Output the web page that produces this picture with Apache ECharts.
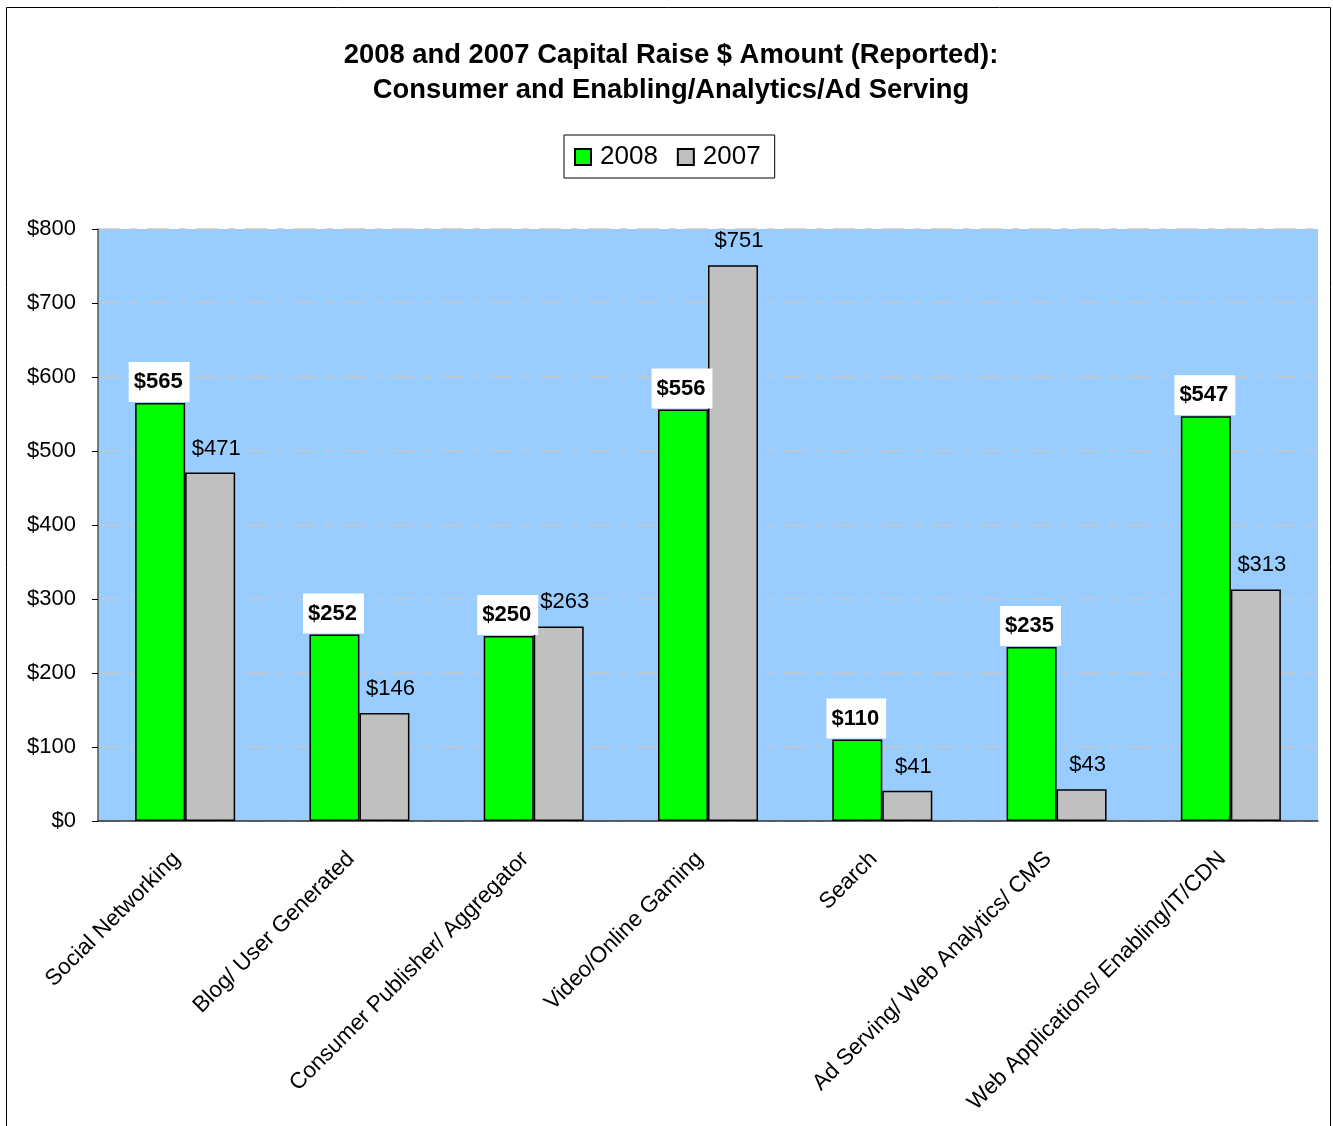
<!DOCTYPE html>
<html>
<head>
<meta charset="utf-8">
<script src="https://cdn.jsdelivr.net/npm/echarts@6/dist/echarts.min.js"></script>
<style>
html,body{margin:0;padding:0;background:#fff;}
#chart{width:1333px;height:1126px;}
</style>
</head>
<body>
<div id="chart"></div>
<script>
const categories = ["Social Networking","Blog/ User Generated","Consumer Publisher/ Aggregator","Video/Online Gaming","Search","Ad Serving/ Web Analytics/ CMS","Web Applications/ Enabling/IT/CDN"];
const values2008 = [565, 252, 250, 556, 110, 235, 547];
const values2007 = [471, 146, 263, 751, 41, 43, 313];
const yTicks = [0, 100, 200, 300, 400, 500, 600, 700, 800];

const FONT = '"Liberation Sans", Arial, sans-serif';
const chart = echarts.init(document.getElementById('chart'), null, {renderer: 'canvas'});
chart.setOption({
  animation: false,
  backgroundColor: '#ffffff',
  textStyle: {fontFamily: FONT},
  graphic: [{
    type: 'rect', shape: {x: 6.5, y: 7.5, width: 1324, height: 1130},
    style: {fill: 'none', stroke: '#000', lineWidth: 1}, z: 100
  }],
  title: {
    text: '2008 and 2007 Capital Raise $ Amount (Reported):\nConsumer and Enabling/Analytics/Ad Serving',
    left: 666, top: 33, textAlign: 'center',
    textStyle: {fontFamily: FONT, fontWeight: 'bold', fontSize: 27.4, lineHeight: 35, color: '#000'}
  },
  legend: {
    data: ['2008', '2007'],
    left: 564, top: 135,
    padding: [9, 14, 8, 10],
    borderColor: '#000', borderWidth: 1,
    itemWidth: 16, itemHeight: 16, itemGap: 19,
    icon: 'rect',
    textStyle: {fontFamily: FONT, fontSize: 26, color: '#000', padding: [0, 0, 0, 4]}
  },
  grid: {left: 98, right: 15, top: 229, bottom: 305, show: true, backgroundColor: '#99ccff', borderWidth: 0},
  xAxis: {
    type: 'category', data: categories,
    axisLine: {lineStyle: {color: '#333', width: 1.5}},
    axisTick: {show: false},
    axisLabel: {rotate: 45, fontFamily: FONT, fontSize: 22.5, color: '#000', margin: 26, interval: 0,
      padding: [0, 12, 0, 0]}
  },
  yAxis: {
    type: 'value', min: 0, max: 800, interval: 100,
    axisLine: {show: true, lineStyle: {color: '#555', width: 1.5}},
    axisTick: {show: true, length: 6, lineStyle: {color: '#000'}},
    axisLabel: {fontFamily: FONT, fontSize: 22, color: '#000', margin: 22,
      formatter: v => yTicks.indexOf(v) >= 0 ? '$' + v : ''},
    splitLine: {show: true, lineStyle: {color: '#c8c8c8', width: 1.5, type: [22, 10, 7, 10]}}
  },
  series: [
    {
      name: '2008', type: 'bar', data: values2008,
      barWidth: 50, barGap: '0%',
      itemStyle: {color: '#00ff00', borderColor: '#000', borderWidth: 1.5},
      label: {show: true, position: 'top', distance: 1, offset: [-1, 0], formatter: p => '$' + p.value,
        fontFamily: FONT, fontSize: 22, fontWeight: 'bold', color: '#000',
        backgroundColor: '#fff', padding: [9, 7, 9, 5]}
    },
    {
      name: '2007', type: 'bar', data: values2007,
      barWidth: 50,
      itemStyle: {color: '#c0c0c0', borderColor: '#000', borderWidth: 1.5},
      label: {show: true, position: 'top', distance: 13, offset: [6, 0], formatter: p => '$' + p.value,
        fontFamily: FONT, fontSize: 22, color: '#000'}
    }
  ]
});
</script>
</body>
</html>
